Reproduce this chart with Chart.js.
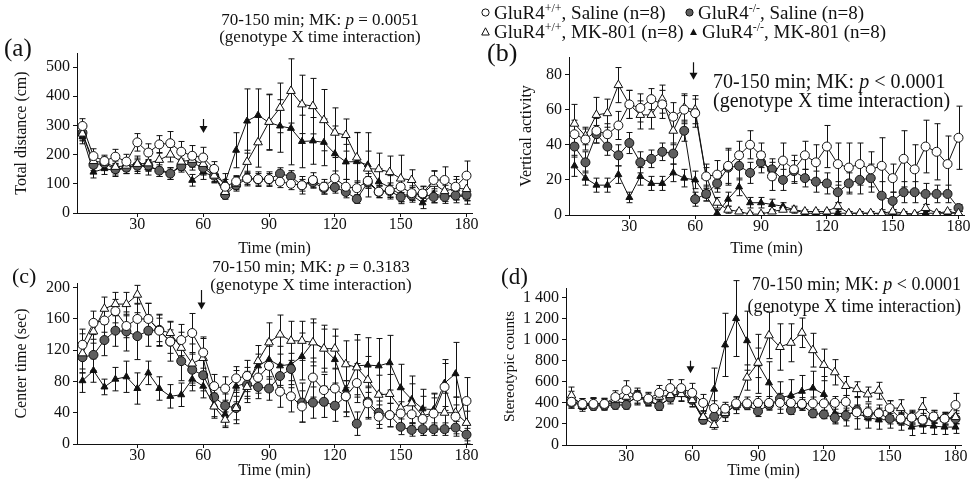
<!DOCTYPE html>
<html>
<head>
<meta charset="utf-8">
<script src="https://cdn.jsdelivr.net/npm/chart.js@4.4.1/dist/chart.umd.min.js"></script>
<style>
  body { margin: 0; width: 970px; height: 486px; position: relative; overflow: hidden; background: #fff; color: #111; font-family: "Liberation Serif", "Times New Roman", serif; }
  canvas { position: absolute; }
  .txt { position: absolute; white-space: nowrap; }
  .legend { position: absolute; white-space: nowrap; font-size: 19px; line-height: 19px; }
  .legend svg { position: absolute; left: -13px; top: 5px; }
  sup { font-size: 12px; line-height: 0; vertical-align: 7px; }
</style>
</head>
<body>

<canvas id="chartA" width="490" height="225" style="left:0;top:40px"></canvas>
<canvas id="chartB" width="490" height="225" style="left:480px;top:40px"></canvas>
<canvas id="chartC" width="490" height="221" style="left:0;top:265px"></canvas>
<canvas id="chartD" width="490" height="221" style="left:480px;top:265px"></canvas>

<!-- panel letters -->
<div class="txt" style="left:4px;top:35px;font-size:25px;line-height:25px">(a)</div>
<div class="txt" style="left:487px;top:40px;font-size:26px;line-height:26px">(b)</div>
<div class="txt" style="left:12px;top:265px;font-size:22px;line-height:22px">(c)</div>
<div class="txt" style="left:501px;top:265px;font-size:23px;line-height:23px">(d)</div>

<!-- statistics notes -->
<div class="txt" style="left:320px;top:11px;transform:translateX(-50%);text-align:center;font-size:17px;line-height:17px">70-150 min; MK: <i>p</i> = 0.0051<br>(genotype X time interaction)</div>
<div class="txt" style="left:713px;top:72px;font-size:20px;line-height:19px">70-150 min; MK: <i>p</i> &lt; 0.0001<br>(genotype X time interaction)</div>
<div class="txt" style="left:311px;top:258px;transform:translateX(-50%);text-align:center;font-size:17px;line-height:18px">70-150 min; MK: <i>p</i> = 0.3183<br>(genotype X time interaction)</div>
<div class="txt" style="right:9px;top:273px;text-align:right;font-size:18px;line-height:22px">70-150 min; MK: <i>p</i> &lt; 0.0001<br>(genotype X time interaction)</div>

<!-- legend -->
<div class="legend" style="left:494px;top:3px"><svg width="9" height="9"><circle cx="4.5" cy="4.5" r="3.6" fill="#fff" stroke="#111" stroke-width="1"/></svg>GluR4<sup>+/+</sup>, Saline (n=8)</div>
<div class="legend" style="left:494px;top:22px"><svg width="9" height="9"><polygon points="4.5,0.8 8.3,8 0.7,8" fill="#fff" stroke="#111" stroke-width="1"/></svg>GluR4<sup>+/+</sup>, MK-801 (n=8)</div>
<div class="legend" style="left:698px;top:3px"><svg width="9" height="9"><circle cx="4.5" cy="4.5" r="3.6" fill="#5e5e5e" stroke="#111" stroke-width="1"/></svg>GluR4<sup>-/-</sup>, Saline (n=8)</div>
<div class="legend" style="left:702px;top:22px"><svg width="9" height="9"><polygon points="4.5,1.5 8,8 1,8" fill="#111"/></svg>GluR4<sup>-/-</sup>, MK-801 (n=8)</div>

<script>
// Open field data, 5 min bins, mean and SEM per group

const times = [5, 10, 15, 20, 25, 30, 35, 40, 45, 50, 55, 60, 65, 70, 75, 80, 85, 90,
               95, 100, 105, 110, 115, 120, 125, 130, 135, 140, 145, 150, 155, 160, 165, 170, 175, 180];
const timeTicks = [30, 60, 90, 120, 150, 180];

// (a) Total distance (cm)
const aTicks = [0, 100, 200, 300, 400, 500];
const aWtSaline = [298, 195, 178, 193, 176, 242, 207, 235, 239, 210, 196, 190, 151, 90, 108, 118, 116, 116, 107, 100, 95, 113, 90, 119, 90, 85, 110, 73, 78, 90, 68, 67, 113, 113, 90, 128];
const aWtSalineErr = [25, 25, 20, 25, 25, 30, 30, 30, 40, 35, 35, 35, 25, 25, 20, 25, 25, 25, 20, 20, 30, 25, 25, 25, 25, 25, 25, 20, 25, 25, 25, 25, 30, 45, 25, 50];
const aWtMk = [272, 178, 172, 158, 162, 168, 170, 182, 200, 176, 182, 168, 128, 72, 100, 175, 242, 312, 360, 418, 372, 366, 318, 275, 267, 190, 152, 150, 140, 118, 113, 65, 100, 75, 85, 82];
const aWtMkErr = [25, 25, 20, 20, 20, 20, 25, 25, 25, 25, 25, 30, 25, 20, 25, 40, 85, 95, 85, 110, 100, 95, 105, 85, 55, 85, 60, 55, 55, 80, 35, 25, 45, 20, 40, 40];
const aKoSaline = [275, 165, 170, 150, 155, 162, 163, 145, 135, 160, 172, 155, 128, 62, 95, 118, 115, 115, 135, 125, 95, 105, 85, 88, 72, 48, 105, 72, 75, 55, 60, 65, 55, 55, 60, 62];
const aKoSalineErr = [25, 20, 20, 20, 20, 20, 20, 20, 20, 20, 25, 25, 20, 15, 15, 20, 20, 20, 20, 20, 20, 20, 20, 20, 20, 15, 20, 20, 20, 15, 15, 15, 20, 15, 15, 20];
const aKoMk = [262, 140, 152, 145, 155, 165, 155, 150, 135, 165, 112, 140, 125, 105, 215, 315, 335, 310, 298, 290, 245, 247, 242, 203, 175, 176, 165, 107, 88, 62, 62, 35, 65, 58, 60, 55];
const aKoMkErr = [25, 20, 20, 20, 20, 30, 25, 25, 20, 20, 20, 25, 20, 30, 60, 110, 90, 95, 90, 125, 90, 80, 80, 95, 60, 100, 110, 45, 40, 30, 25, 20, 30, 25, 25, 25];

// (b) Vertical activity
const bTicks = [0, 20, 40, 60, 80];
const bWtSaline = [46, 43, 48, 46, 51, 63, 61, 66, 63, 56, 60, 58, 22, 23, 28, 34, 40, 34, 22, 31, 26, 34, 30, 39, 29, 27, 29, 26, 28, 21, 32, 26, 39, 36, 29, 44];
const bWtSalineErr = [8, 6, 7, 6, 8, 8, 8, 6, 8, 8, 8, 8, 7, 8, 10, 8, 8, 7, 8, 10, 8, 8, 10, 12, 12, 14, 12, 10, 16, 8, 16, 14, 15, 16, 16, 18];
const bWtMk = [52, 45, 57, 58, 74, 63, 57, 57, 66, 48, 61, 60, 22, 7, 3, 2, 0.5, 0.5, 2, 3, 3, 2, 2, 2, 5, 1, 1, 1, 1, 2, 1, 0.5, 4, 1, 2, 1];
const bWtMkErr = [11, 5, 10, 8, 10, 8, 8, 8, 8, 8, 8, 8, 5, 3, 2, 1, 1, 1, 1, 1, 1, 1, 1, 1, 2, 1, 1, 1, 1, 1, 1, 1, 2, 1, 1, 1];
const bKoSaline = [39, 30, 46, 39, 34, 41, 30, 32, 36, 35, 48, 9, 12, 18, 27, 28, 24, 30, 26, 20, 25, 21, 19, 18, 13, 18, 20, 21, 11, 8, 13, 13, 12, 12, 12, 4];
const bKoSalineErr = [6, 6, 5, 5, 6, 6, 6, 5, 5, 6, 6, 4, 4, 5, 10, 8, 6, 6, 6, 6, 6, 5, 6, 6, 6, 6, 8, 8, 8, 5, 6, 6, 6, 5, 5, 2];
const bKoMk = [28, 21, 17, 17, 23, 10, 22, 18, 18, 24, 21, 20, 11, 1, 9, 16, 7, 7, 6, 5, 3, 1, 1, 1, 1, 1, 1, 1, 0.5, 0.5, 0.5, 0.5, 1, 1, 1, 1];
const bKoMkErr = [6, 4, 4, 4, 5, 3, 5, 4, 4, 5, 5, 5, 3, 2, 4, 5, 3, 3, 3, 2, 2, 1, 1, 1, 1, 1, 1, 1, 1, 1, 1, 1, 1, 1, 1, 1];

// (c) Center time (sec)
const cTicks = [0, 40, 80, 120, 160, 200];
const cWtSaline = [127, 155, 158, 170, 151, 160, 160, 145, 131, 133, 142, 117, 74, 71, 84, 87, 85, 100, 67, 61, 48, 85, 69, 71, 61, 78, 52, 35, 37, 39, 38, 32, 39, 73, 35, 55];
const cWtSalineErr = [20, 15, 15, 15, 15, 20, 20, 20, 25, 20, 25, 20, 15, 15, 15, 20, 20, 25, 20, 20, 20, 25, 20, 25, 20, 25, 20, 15, 15, 15, 15, 15, 20, 30, 25, 30];
const cWtMk = [116, 144, 173, 179, 179, 191, 160, 146, 142, 123, 103, 110, 48, 31, 46, 73, 106, 130, 140, 132, 132, 130, 122, 122, 102, 98, 82, 63, 64, 46, 52, 36, 40, 40, 40, 27];
const cWtMkErr = [25, 15, 15, 15, 15, 12, 20, 20, 15, 20, 25, 25, 15, 10, 15, 20, 20, 25, 25, 25, 25, 25, 25, 25, 30, 35, 30, 25, 25, 25, 25, 25, 25, 25, 20, 15];
const cKoSaline = [111, 114, 133, 145, 144, 138, 145, 146, 131, 106, 95, 88, 60, 49, 46, 76, 73, 71, 87, 96, 53, 53, 54, 49, 61, 26, 54, 40, 37, 22, 18, 19, 19, 19, 21, 12];
const cKoSalineErr = [20, 20, 20, 20, 25, 30, 20, 15, 15, 25, 20, 20, 15, 15, 20, 15, 15, 15, 15, 20, 25, 20, 20, 20, 20, 15, 20, 15, 15, 10, 8, 8, 8, 8, 8, 8];
const cKoMk = [81, 94, 73, 83, 86, 71, 91, 71, 61, 63, 83, 74, 50, 38, 74, 78, 100, 108, 100, 102, 112, 130, 122, 108, 70, 100, 101, 100, 104, 72, 57, 45, 44, 78, 90, 28];
const cKoMkErr = [15, 15, 10, 15, 20, 20, 15, 15, 15, 15, 15, 15, 15, 15, 20, 20, 15, 25, 25, 30, 30, 30, 30, 30, 35, 40, 35, 35, 35, 30, 30, 25, 20, 30, 40, 30];

// (d) Stereotypic counts
const dTicks = [0, 200, 400, 600, 800, 1000, 1200, 1400];
const dWtSaline = [410, 390, 390, 390, 455, 520, 460, 440, 495, 540, 540, 495, 400, 350, 345, 395, 395, 400, 400, 400, 400, 390, 395, 395, 400, 410, 310, 310, 300, 350, 250, 260, 240, 270, 250, 380];
const dWtSalineErr = [60, 50, 50, 50, 60, 90, 80, 60, 70, 80, 80, 90, 80, 70, 60, 60, 60, 60, 60, 60, 60, 60, 60, 70, 60, 60, 60, 80, 80, 70, 60, 70, 60, 60, 60, 110];
const dWtMk = [470, 370, 394, 394, 426, 458, 458, 432, 458, 474, 483, 426, 266, 190, 304, 378, 640, 780, 1040, 930, 970, 1065, 900, 760, 690, 560, 530, 480, 515, 350, 350, 260, 360, 265, 250, 265];
const dWtMkErr = [80, 50, 50, 50, 50, 50, 60, 60, 60, 60, 70, 60, 60, 40, 80, 80, 120, 140, 220, 220, 180, 140, 160, 150, 120, 90, 70, 70, 80, 70, 80, 60, 90, 60, 60, 60];
const dKoSaline = [400, 380, 370, 375, 380, 380, 470, 420, 370, 450, 500, 430, 240, 270, 300, 380, 380, 320, 380, 440, 330, 380, 300, 290, 260, 280, 330, 290, 300, 250, 240, 260, 230, 260, 250, 250];
const dKoSalineErr = [50, 40, 40, 40, 40, 40, 40, 40, 40, 40, 40, 40, 30, 40, 40, 40, 40, 50, 50, 50, 40, 50, 40, 40, 50, 50, 50, 50, 50, 50, 50, 50, 50, 50, 50, 50];
const dKoMk = [450, 390, 400, 380, 410, 400, 450, 420, 380, 440, 480, 420, 250, 530, 950, 1200, 990, 770, 590, 450, 470, 510, 540, 480, 300, 300, 300, 260, 240, 240, 220, 170, 190, 180, 170, 170];
const dKoMkErr = [60, 50, 50, 50, 50, 50, 60, 50, 50, 50, 60, 60, 50, 200, 300, 360, 280, 280, 200, 150, 150, 150, 160, 170, 100, 120, 150, 100, 90, 80, 80, 80, 80, 80, 70, 60];

// marker look for the four groups
const groupStyles = [
    { label: 'GluR4+/+, Saline', pointStyle: 'circle', fill: '#fff', radius: 4.5 },
    { label: 'GluR4+/+, MK-801', pointStyle: 'triangle', fill: '#fff', radius: 5 },
    { label: 'GluR4-/-, Saline', pointStyle: 'circle', fill: '#5e5e5e', radius: 4.5 },
    { label: 'GluR4-/-, MK-801', pointStyle: 'triangle', fill: '#111', radius: 4 }
];

Chart.defaults.font.family = '"Liberation Serif", "Times New Roman", serif';
Chart.defaults.color = '#111';

// SEM whiskers, drawn under the markers
const errorBars = {
    id: 'errorBars',
    beforeDatasetsDraw(chart) {
        const { ctx, scales: { x, y } } = chart;
        ctx.save();
        ctx.strokeStyle = '#111';
        ctx.lineWidth = 1;
        chart.data.datasets.forEach(ds => {
            ds.data.forEach((p, i) => {
                const e = ds.sem[i];
                const px = Math.round(x.getPixelForValue(p.x)) + 0.5;
                const top = y.getPixelForValue(p.y + e);
                const bot = y.getPixelForValue(Math.max(0, p.y - e));
                ctx.beginPath();
                ctx.moveTo(px, top);
                ctx.lineTo(px, bot);
                ctx.moveTo(px - 3, top);
                ctx.lineTo(px + 3, top);
                ctx.moveTo(px - 3, bot);
                ctx.lineTo(px + 3, bot);
                ctx.stroke();
            });
        });
        ctx.restore();
    }
};

// injection arrow
const injectionArrow = {
    id: 'injectionArrow',
    afterDatasetsDraw(chart, args, o) {
        const { ctx, scales: { x, y } } = chart;
        const px = Math.round(x.getPixelForValue(o.t)) + 0.5;
        const y1 = y.getPixelForValue(o.from);
        const y2 = y.getPixelForValue(o.to);
        ctx.save();
        ctx.strokeStyle = '#111';
        ctx.fillStyle = '#111';
        ctx.lineWidth = 1.2;
        ctx.beginPath();
        ctx.moveTo(px, y1);
        ctx.lineTo(px, y2 - 6);
        ctx.stroke();
        ctx.beginPath();
        ctx.moveTo(px - 4, y2 - 7);
        ctx.lineTo(px + 4, y2 - 7);
        ctx.lineTo(px, y2);
        ctx.closePath();
        ctx.fill();
        ctx.restore();
    }
};

function makePanel(id, p) {
    const datasets = p.series.map((s, k) => {
        const g = groupStyles[k];
        return {
            label: g.label,
            data: times.map((t, i) => ({ x: t, y: s[0][i] })),
            sem: s[1],
            borderColor: '#111',
            borderWidth: 1,
            pointStyle: g.pointStyle,
            pointRadius: g.radius,
            pointBackgroundColor: g.fill,
            pointBorderColor: '#111',
            pointBorderWidth: 1,
            tension: 0,
            fill: false
        };
    });

    return new Chart(document.getElementById(id), {
        type: 'line',
        data: { datasets },
        plugins: [errorBars, injectionArrow],
        options: {
            responsive: false,
            animation: false,
            layout: { padding: p.padding },
            plugins: {
                legend: { display: false },
                tooltip: { enabled: false },
                injectionArrow: p.arrow
            },
            scales: {
                x: {
                    type: 'linear',
                    min: 2.5,
                    max: 182.5,
                    afterBuildTicks: s => { s.ticks = timeTicks.map(v => ({ value: v })); },
                    afterFit: s => { s.height = p.xHeight; },
                    border: { color: '#111', width: 1 },
                    grid: { drawOnChartArea: false, color: '#111', tickLength: 4 },
                    ticks: { font: { size: 16 }, padding: -2, maxRotation: 0 },
                    title: {
                        display: true, text: 'Time (min)',
                        font: { size: 16 }, padding: { top: 0, bottom: p.xTitlePad }
                    }
                },
                y: {
                    min: 0,
                    max: p.yMax,
                    afterBuildTicks: s => { s.ticks = p.yTicks.map(v => ({ value: v })); },
                    afterFit: s => { s.width = p.yWidth; },
                    border: { color: '#111', width: 1 },
                    grid: { drawOnChartArea: false, color: '#111', tickLength: 4 },
                    ticks: {
                        font: { size: 16 }, padding: 3,
                        callback: v => v >= 1000 ? String(v).slice(0, -3) + ' ' + String(v).slice(-3) : v
                    },
                    title: {
                        display: true, text: p.yTitle,
                        font: { size: p.yTitleSize || 16 }, padding: { top: p.yTitlePad, bottom: 0 }
                    }
                }
            }
        }
    });
}

makePanel('chartA', {
    series: [[aWtSaline, aWtSalineErr], [aWtMk, aWtMkErr], [aKoSaline, aKoSalineErr], [aKoMk, aKoMkErr]],
    yMax: 548, yTicks: aTicks, yTitle: 'Total distance (cm)',
    yWidth: 77, xHeight: 52, xTitlePad: 7, yTitlePad: 12,
    padding: { left: 0, top: 13, right: 18, bottom: 0 },
    arrow: { t: 60, from: 322, to: 274 }
});

makePanel('chartB', {
    series: [[bWtSaline, bWtSalineErr], [bWtMk, bWtMkErr], [bKoSaline, bKoSalineErr], [bKoMk, bKoMkErr]],
    yMax: 90, yTicks: bTicks, yTitle: 'Vertical activity',
    yWidth: 89, xHeight: 50, xTitlePad: 7, yTitlePad: 37,
    padding: { left: 0, top: 17, right: 5, bottom: 0 },
    arrow: { t: 59, from: 87, to: 77 }
});

makePanel('chartC', {
    series: [[cWtSaline, cWtSalineErr], [cWtMk, cWtMkErr], [cKoSaline, cKoSalineErr], [cKoMk, cKoMkErr]],
    yMax: 206, yTicks: cTicks, yTitle: 'Center time (sec)',
    yWidth: 77, xHeight: 42, xTitlePad: 6, yTitlePad: 12,
    padding: { left: 0, top: 18, right: 18, bottom: 0 },
    arrow: { t: 59, from: 197, to: 172 }
});

makePanel('chartD', {
    series: [[dWtSaline, dWtSalineErr], [dWtMk, dWtMkErr], [dKoSaline, dKoSalineErr], [dKoMk, dKoMkErr]],
    yMax: 1490, yTicks: dTicks, yTitle: 'Stereotypic counts', yTitleSize: 15,
    yWidth: 86, xHeight: 41, xTitlePad: 6, yTitlePad: 21,
    padding: { left: 0, top: 23, right: 9, bottom: 0 },
    arrow: { t: 59, from: 800, to: 680 }
});
</script>
</body>
</html>
